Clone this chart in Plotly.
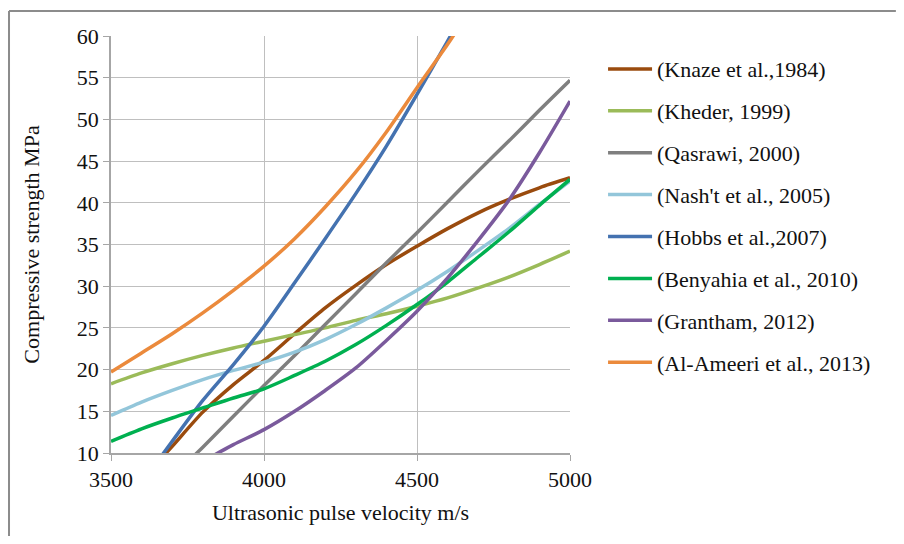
import plotly.graph_objects as go

# ---- data ----
names = ["(Knaze et al.,1984)", "(Kheder, 1999)", "(Qasrawi, 2000)", "(Nash't et al., 2005)",
         "(Hobbs et al.,2007)", "(Benyahia et al., 2010)", "(Grantham, 2012)", "(Al-Ameeri et al., 2013)"]
colors = ["#9A4B0E", "#9BBB59", "#7F7F7F", "#93C6DA", "#4472B0", "#00B050", "#7A5A9C", "#EB8A3C"]

knaze_x = [3650, 3700, 3800, 3900, 4000, 4100, 4200, 4300, 4400, 4500, 4600, 4700, 4800, 4900, 5000]
knaze_y = [8.8, 10.8, 14.9, 18.2, 21.1, 24.3, 27.4, 30.1, 32.6, 34.8, 36.9, 38.8, 40.4, 41.8, 43.0]

kheder_x = [3500, 3600, 3700, 3800, 3900, 4000, 4100, 4200, 4300, 4400, 4500, 4600, 4700, 4800, 4900, 5000]
kheder_y = [18.3, 19.6, 20.7, 21.7, 22.6, 23.4, 24.2, 25.0, 25.9, 26.7, 27.6, 28.6, 29.8, 31.1, 32.6, 34.2]

qasrawi_x = [3750, 3800, 3900, 4000, 4100, 4200, 4300, 4400, 4500, 4600, 4700, 4800, 4900, 5000]
qasrawi_y = [8.9, 10.7, 14.4, 18.1, 21.7, 25.4, 29.1, 32.8, 36.4, 40.1, 43.8, 47.4, 51.1, 54.7]

nasht_x = [3500, 3600, 3700, 3800, 3900, 4000, 4100, 4200, 4300, 4400, 4500, 4600, 4700, 4800, 4900, 5000]
nasht_y = [14.5, 16.1, 17.5, 18.8, 19.9, 20.9, 22.1, 23.6, 25.4, 27.4, 29.5, 31.8, 34.3, 36.9, 39.8, 42.6]

hobbs_x = [3650, 3700, 3800, 3900, 4000, 4100, 4200, 4300, 4400, 4500, 4600, 4650]
hobbs_y = [8.9, 11.4, 16.3, 20.6, 25.2, 30.4, 35.7, 41.1, 46.8, 53.0, 59.4, 62.6]

benyahia_x = [3500, 3600, 3700, 3800, 3900, 4000, 4100, 4200, 4300, 4400, 4500, 4600, 4700, 4800, 4900, 5000]
benyahia_y = [11.4, 12.9, 14.2, 15.4, 16.6, 17.7, 19.3, 21.0, 23.0, 25.3, 27.8, 30.5, 33.5, 36.5, 39.7, 42.8]

grantham_x = [3830, 3900, 4000, 4100, 4200, 4300, 4400, 4500, 4600, 4700, 4800, 4900, 5000]
grantham_y = [9.6, 11.0, 12.8, 15.0, 17.5, 20.2, 23.5, 27.0, 31.0, 35.5, 40.3, 46.0, 52.2]

alameeri_x = [3500, 3600, 3700, 3800, 3900, 4000, 4100, 4200, 4300, 4400, 4500, 4600, 4650]
alameeri_y = [19.7, 22.0, 24.3, 26.8, 29.5, 32.4, 35.7, 39.5, 43.7, 48.5, 53.8, 59.0, 61.8]

series_x = [knaze_x, kheder_x, qasrawi_x, nasht_x, hobbs_x, benyahia_x, grantham_x, alameeri_x]
series_y = [knaze_y, kheder_y, qasrawi_y, nasht_y, hobbs_y, benyahia_y, grantham_y, alameeri_y]

x_ticks = [3500, 4000, 4500, 5000]
y_ticks = [10, 15, 20, 25, 30, 35, 40, 45, 50, 55, 60]

FONT = "Liberation Serif, Times New Roman, serif"
FS = 22

fig = go.Figure()
for i, (nm, xs, ys) in enumerate(zip(names, series_x, series_y)):
    fig.add_trace(go.Scatter(
        x=xs, y=ys, name=nm, mode="lines",
        line=dict(color=colors[i], width=3.5, shape="spline", smoothing=0.8),
        legendgroup=str(i),
    ))

fig.update_layout(
    width=888, height=528,
    margin=dict(l=103, r=326, t=28, b=83),
    paper_bgcolor="white", plot_bgcolor="white",
    font=dict(family=FONT, size=FS, color="#111"),
    showlegend=True,
    legend=dict(x=1.072, xanchor="left", y=0.971, yanchor="top",
                font=dict(family=FONT, size=FS, color="#111"),
                tracegroupgap=10.3, itemwidth=44, bgcolor="rgba(0,0,0,0)"),
    xaxis=dict(range=[3500, 5000], tickvals=x_ticks, ticks="outside", ticklen=6,
               tickcolor="#A6A6A6", showgrid=True, gridcolor="#BFBFBF", gridwidth=1,
               showline=True, linecolor="#A6A6A6", linewidth=1.5, zeroline=False,
               tickfont=dict(family=FONT, size=FS),
               title=dict(text="Ultrasonic pulse velocity m/s", font=dict(family=FONT, size=FS), standoff=13)),
    yaxis=dict(range=[10, 60], tickvals=y_ticks, ticks="outside", ticklen=6,
               tickcolor="#A6A6A6", showgrid=True, gridcolor="#BFBFBF", gridwidth=1,
               showline=True, linecolor="#A6A6A6", linewidth=1.5, zeroline=False,
               tickfont=dict(family=FONT, size=FS),
               title=dict(text="Compressive strength MPa", font=dict(family=FONT, size=FS), standoff=31)),
)

# outer chart frame (top and left edges visible)
fig.add_shape(type="line", xref="paper", yref="paper", x0=-0.2222, x1=-0.2222, y0=-0.25, y1=1.06,
              line=dict(color="#8C8C8C", width=2))
fig.add_shape(type="line", xref="paper", yref="paper", x0=-0.2222, x1=1.71, y0=1.06, y1=1.06,
              line=dict(color="#8C8C8C", width=2))

fig.write_html("out.html")
